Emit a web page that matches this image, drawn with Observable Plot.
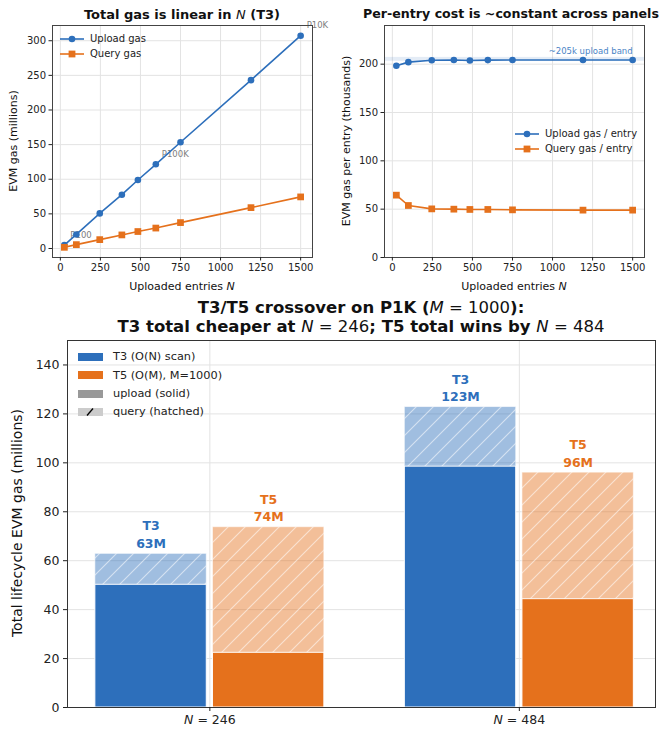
<!DOCTYPE html>
<html><head><meta charset="utf-8">
<script src="https://cdn.jsdelivr.net/npm/d3@7"></script>
<script src="https://cdn.jsdelivr.net/npm/@observablehq/plot@0.6"></script>
<style>
body{margin:0;background:#fff;}
#fig{position:relative;width:660px;height:736px;overflow:hidden;font-family:"DejaVu Sans",sans-serif;color:#000;background:#fff;}
.abs{position:absolute;white-space:nowrap;line-height:1;}
.abs svg{vertical-align:middle;}
</style></head><body><div id="fig"></div>
<script>
// ---------- data ----------
const entriesN = [25, 100, 246, 384, 484, 596, 750, 1190, 1500];
const uploadGasM = [5.0, 20.3, 50.7, 77.7, 98.9, 121.6, 153.4, 243.1, 307.3];
const queryGasM = [1.7, 5.6, 12.8, 19.6, 24.5, 29.5, 37.4, 59.0, 74.5];
const uploadPerEntryK = [198.3, 202.1, 204.1, 204.3, 203.8, 204.2, 204.3, 204.3, 204.3];
const queryPerEntryK = [64.5, 53.8, 50.3, 50.0, 49.7, 49.7, 49.3, 49.0, 49.0];
const panelLabels = ["P100", "P100K", "P10K"];
const panelLabelIdx = [0, 5, 8];
const bandK = [203, 207];
const xTicksTop = [0, 250, 500, 750, 1000, 1250, 1500];
const yTicksTotal = [0, 50, 100, 150, 200, 250, 300];
const yTicksPer = [0, 50, 100, 150, 200];

const crossoverN = [246, 484];
const t3UploadM = [50.2, 98.5];
const t3QueryM = [12.6, 24.3];
const t5UploadM = [22.4, 44.3];
const t5QueryM = [51.3, 51.7];
const yTicksBars = [0, 20, 40, 60, 80, 100, 120, 140];

// ---------- styles ----------
const blue = "#2d6fbb", orange = "#e5711c";
const gridC = "#e3e3e3", frameC = "#444";
const fig = document.getElementById("fig");
const plain = d => String(d);

function addText(html, x, y, o = {}) {
  const d = document.createElement("div");
  d.className = "abs";
  d.innerHTML = html;
  Object.assign(d.style, {
    left: x + "px", top: y + "px",
    fontSize: (o.size || 11) + "px",
    fontWeight: o.bold ? "bold" : "normal",
    color: o.color || "#111",
    transform: "translate(-50%,-50%)" + (o.rotate ? " rotate(-90deg)" : ""),
    textAlign: "center", lineHeight: o.lh || "1"
  });
  fig.appendChild(d);
  return d;
}
function place(svg, left, top) {
  svg.style.position = "absolute";
  svg.style.left = left + "px";
  svg.style.top = top + "px";
  fig.appendChild(svg);
}
function lineSwatch(color, shape) {
  const m = shape === "circle"
    ? `<circle cx="12" cy="5" r="3.3" fill="${color}"/>`
    : `<rect x="8.6" y="1.6" width="6.8" height="6.8" fill="${color}"/>`;
  return `<svg width="24" height="10"><line x1="0" y1="5" x2="24" y2="5" stroke="${color}" stroke-width="1.6"/>${m}</svg>`;
}
function lineLegend(items, left, top, rowH, size) {
  items.forEach((it, k) => {
    const d = document.createElement("div");
    d.className = "abs";
    Object.assign(d.style, {left: left + "px", top: (top + k * rowH - 6) + "px", fontSize: size + "px", height: "12px", display: "flex", alignItems: "center", color: "#222"});
    d.innerHTML = lineSwatch(it.color, it.shape) + `<span style="margin-left:6px">${it.label}</span>`;
    fig.appendChild(d);
  });
}

const baseStyle = {fontFamily: "DejaVu Sans, sans-serif", fontSize: "10px", color: "#222", background: "transparent", overflow: "visible"};

const rows = entriesN.map((n, i) => ({n, up: uploadGasM[i], q: queryGasM[i], upE: uploadPerEntryK[i], qE: queryPerEntryK[i]}));
const annot = panelLabelIdx.map((idx, k) => ({n: entriesN[idx], y: uploadGasM[idx], label: panelLabels[k]}));

// ---------- panel 1 ----------
const p1 = Plot.plot({
  width: 330, height: 300,
  marginLeft: 52, marginRight: 18, marginTop: 25, marginBottom: 43,
  x: {domain: [-49, 1574]},
  y: {domain: [-13, 322]},
  style: baseStyle,
  marks: [
    Plot.gridX(xTicksTop, {stroke: gridC, strokeOpacity: 1}),
    Plot.gridY(yTicksTotal, {stroke: gridC, strokeOpacity: 1}),
    Plot.text(annot, {x: "n", y: "y", text: "label", dx: 6, dy: -10, textAnchor: "start", fill: "#808080", fontSize: 8.5}),
    Plot.line(rows, {x: "n", y: "up", stroke: blue, strokeWidth: 1.6}),
    Plot.dot(rows, {x: "n", y: "up", r: 3.3, fill: blue}),
    Plot.line(rows, {x: "n", y: "q", stroke: orange, strokeWidth: 1.6}),
    Plot.dot(rows, {x: "n", y: "q", r: 3.8, symbol: "square", fill: orange}),
    Plot.frame({stroke: frameC}),
    Plot.axisX({ticks: xTicksTop, tickFormat: plain, tickSize: 3.5, tickPadding: 3, label: null}),
    Plot.axisY({ticks: yTicksTotal, tickFormat: plain, tickSize: 3.5, tickPadding: 3, label: null})
  ]
});
place(p1, 0, 0);

// ---------- panel 2 ----------
const p2 = Plot.plot({
  width: 330, height: 300,
  marginLeft: 54, marginRight: 16, marginTop: 25, marginBottom: 43,
  x: {domain: [-49, 1574]},
  y: {domain: [0, 240]},
  style: baseStyle,
  marks: [
    Plot.gridX(xTicksTop, {stroke: gridC, strokeOpacity: 1}),
    Plot.gridY(yTicksPer, {stroke: gridC, strokeOpacity: 1}),
    Plot.rect([{y1: bandK[0], y2: bandK[1]}], {y1: "y1", y2: "y2", fill: blue, fillOpacity: 0.13}),
    Plot.text([{x: entriesN[entriesN.length - 1], y: (bandK[0] + bandK[1]) / 2, t: "~205k upload band"}], {x: "x", y: "y", text: "t", dy: -8, textAnchor: "end", fill: "#4a84c6", fontSize: 8.5}),
    Plot.line(rows, {x: "n", y: "upE", stroke: blue, strokeWidth: 1.6}),
    Plot.dot(rows, {x: "n", y: "upE", r: 3.3, fill: blue}),
    Plot.line(rows, {x: "n", y: "qE", stroke: orange, strokeWidth: 1.6}),
    Plot.dot(rows, {x: "n", y: "qE", r: 3.8, symbol: "square", fill: orange}),
    Plot.frame({stroke: frameC}),
    Plot.axisX({ticks: xTicksTop, tickFormat: plain, tickSize: 3.5, tickPadding: 3, label: null}),
    Plot.axisY({ticks: yTicksPer, tickFormat: plain, tickSize: 3.5, tickPadding: 3, label: null})
  ]
});
place(p2, 330, 0);

// ---------- panel 3 (bars) ----------
const half = 0.18, off = 0.19;
const bars = [];
crossoverN.forEach((n, i) => {
  bars.push({s: "T3", x: i - off, up: t3UploadM[i], q: t3QueryM[i]});
  bars.push({s: "T5", x: i + off, up: t5UploadM[i], q: t5QueryM[i]});
});
bars.forEach(b => { b.total = b.up + b.q; b.lab = `${b.s}\n${Math.round(b.total)}M`; });
const b3 = bars.filter(b => b.s === "T3"), b5 = bars.filter(b => b.s === "T5");

const p3 = Plot.plot({
  width: 660, height: 406,
  marginLeft: 67, marginRight: 5, marginTop: 10, marginBottom: 29,
  x: {domain: [-0.46, 1.44]},
  y: {domain: [0, 150]},
  style: {...baseStyle, fontSize: "12.5px"},
  marks: [
    Plot.gridX([0, 1], {stroke: gridC, strokeOpacity: 1}),
    Plot.gridY(yTicksBars, {stroke: gridC, strokeOpacity: 1}),
    Plot.rect(b3, {x1: d => d.x - half, x2: d => d.x + half, y1: 0, y2: "up", fill: blue, stroke: "white", strokeWidth: 1}),
    Plot.rect(b5, {x1: d => d.x - half, x2: d => d.x + half, y1: 0, y2: "up", fill: orange, stroke: "white", strokeWidth: 1}),
    Plot.rect(b3, {x1: d => d.x - half, x2: d => d.x + half, y1: "up", y2: "total", fill: blue, fillOpacity: 0.45}),
    Plot.rect(b5, {x1: d => d.x - half, x2: d => d.x + half, y1: "up", y2: "total", fill: orange, fillOpacity: 0.45}),
    Plot.rect(bars, {x1: d => d.x - half, x2: d => d.x + half, y1: "up", y2: "total", fill: "url(#hatchW)", stroke: "white", strokeOpacity: 0.6, strokeWidth: 1}),
    Plot.text(b3, {x: "x", y: "total", text: "lab", lineAnchor: "bottom", lineHeight: 1.4, dy: -6, fill: blue, fontWeight: "bold", fontSize: 12.5}),
    Plot.text(b5, {x: "x", y: "total", text: "lab", lineAnchor: "bottom", lineHeight: 1.4, dy: -6, fill: orange, fontWeight: "bold", fontSize: 12.5}),
    Plot.frame({stroke: "#333"}),
    Plot.axisX({ticks: [0, 1], tickFormat: i => `N = ${crossoverN[i]}`, tickSize: 4, tickPadding: 4, label: null}),
    Plot.axisY({ticks: yTicksBars, tickFormat: plain, tickSize: 4, tickPadding: 4, label: null})
  ]
});
const defs = d3.select(p3).insert("defs", ":first-child");
const pat = defs.append("pattern").attr("id", "hatchW").attr("patternUnits", "userSpaceOnUse").attr("width", 17).attr("height", 17);
pat.append("path").attr("d", "M-2,2 L2,-2 M0,17 L17,0 M15,19 L19,15").attr("stroke", "white").attr("stroke-opacity", 0.55).attr("stroke-width", 1.1).attr("fill", "none");
d3.select(p3).selectAll("text").each(function() {
  const t = d3.select(this);
  const m = /^N = (\d+)$/.exec(t.text());
  if (m) {
    t.text(null);
    t.append("tspan").attr("font-style", "italic").text("N");
    t.append("tspan").text(` = ${m[1]}`);
  }
});
place(p3, 0, 330);

// ---------- titles & labels ----------
addText('Total gas is linear in <i style="font-weight:normal">N</i> (T3)', 182, 14, {size: 13, bold: true});
addText('Per-entry cost is ~constant across panels', 511, 14, {size: 12.6, bold: true});
addText('Uploaded entries <i>N</i>', 182, 286, {size: 11});
addText('Uploaded entries <i>N</i>', 514, 286, {size: 11});
addText('EVM gas (millions)', 13, 141, {size: 11, rotate: true});
addText('EVM gas per entry (thousands)', 346, 141, {size: 11, rotate: true});
addText('T3/T5 crossover on P1K (<span style="font-weight:normal"><i>M</i> = 1000</span>):', 361, 308, {size: 16.5, bold: true});
addText('T3 total cheaper at <span style="font-weight:normal"><i>N</i> = ' + crossoverN[0] + '</span>; T5 total wins by <span style="font-weight:normal"><i>N</i> = ' + crossoverN[1] + '</span>', 361, 327, {size: 16.5, bold: true});
addText('Total lifecycle EVM gas (millions)', 17, 523, {size: 14, rotate: true});

// ---------- legends ----------
lineLegend([{color: blue, shape: "circle", label: "Upload gas"}, {color: orange, shape: "square", label: "Query gas"}], 60, 39, 15, 10);
lineLegend([{color: blue, shape: "circle", label: "Upload gas / entry"}, {color: orange, shape: "square", label: "Query gas / entry"}], 515, 134, 15, 10);

const barLegend = [
  {sw: `<rect x="0" y="0" width="25" height="8" fill="${blue}"/>`, label: "T3 (O(N) scan)"},
  {sw: `<rect x="0" y="0" width="25" height="8" fill="${orange}"/>`, label: "T5 (O(M), M=1000)"},
  {sw: `<rect x="0" y="0" width="25" height="8" fill="#999"/>`, label: "upload (solid)"},
  {sw: `<rect x="0" y="0" width="25" height="8" fill="#ccc"/><line x1="9" y1="7.5" x2="15" y2="0.5" stroke="#000" stroke-width="1.3"/>`, label: "query (hatched)"}
];
barLegend.forEach((it, k) => {
  const d = document.createElement("div");
  d.className = "abs";
  Object.assign(d.style, {left: "78px", top: (357 + k * 18.3 - 7) + "px", height: "14px", fontSize: "11.3px", display: "flex", alignItems: "center", color: "#222"});
  d.innerHTML = `<svg width="25" height="8">${it.sw}</svg><span style="margin-left:10px">${it.label}</span>`;
  fig.appendChild(d);
});
</script></body></html>
